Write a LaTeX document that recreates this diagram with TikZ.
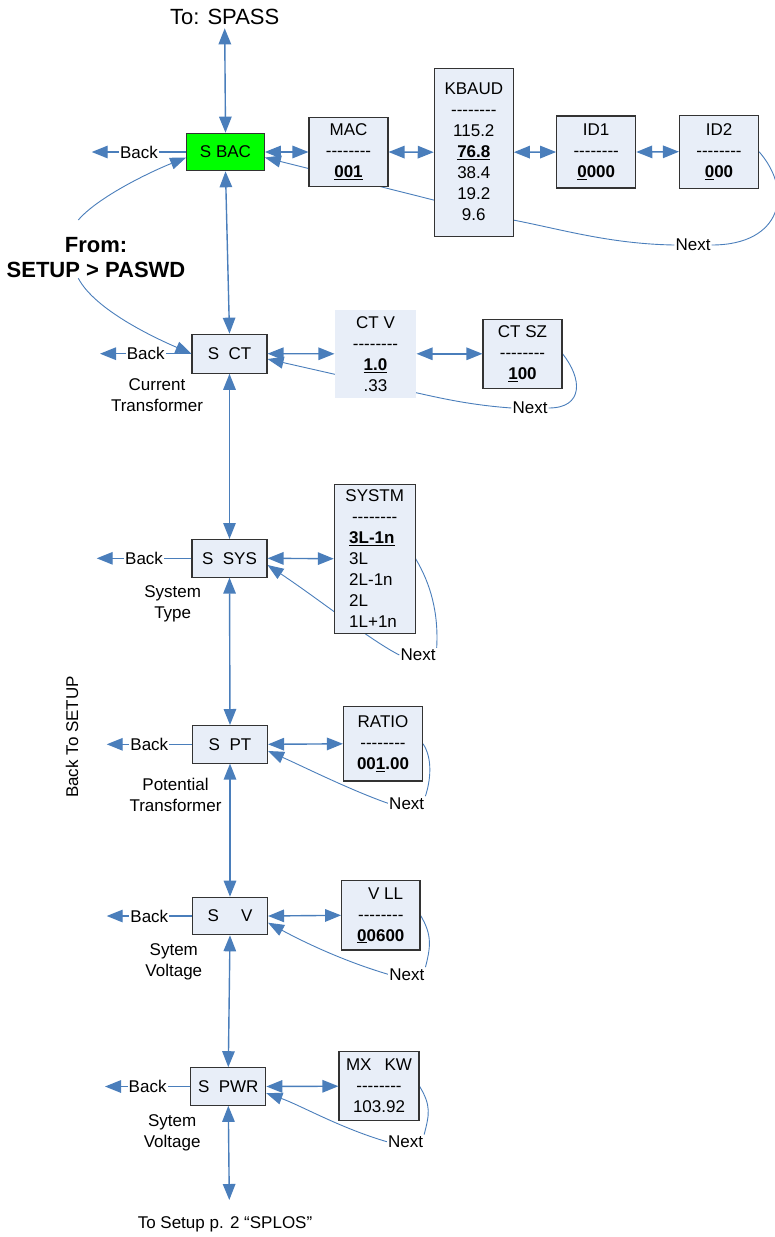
\documentclass[tikz,border=0pt]{standalone}
\usepackage{fontspec}
\setmainfont{Liberation Sans}[Ligatures=TeXOff]
\usetikzlibrary{arrows.meta,backgrounds}
\definecolor{linkblue}{HTML}{4A7EBB}
\definecolor{boxfill}{HTML}{E8EEF8}
\definecolor{bacgreen}{HTML}{00FF00}
\newcommand\dashrow{--------}
\newcommand\sysopt[1]{\makebox[51pt][l]{#1}}

\begin{document}
\begin{tikzpicture}[x=1pt,y=-1pt,
font=\fontsize{17}{21}\selectfont,
mainbox/.style={draw=black!80,fill=boxfill,line width=1.1pt,minimum width=75pt,minimum height=37.5pt,inner sep=0pt},
valbox/.style={mainbox,minimum width=79pt,align=center},
dbl/.style={draw=linkblue,line width=1.4pt,{Triangle[length=16pt,width=12.5pt]}-{Triangle[length=16pt,width=12.5pt]}},
backarrow/.style={draw=linkblue,line width=1.4pt,-{Triangle[length=16pt,width=12.5pt]}},
nextline/.style={draw=linkblue,line width=0.9pt},
nextarrow/.style={nextline,-{Triangle[length=16pt,width=12pt]}},
note/.style={fill=white,inner sep=1pt},
capt/.style={align=center,inner sep=0pt}
]
\useasboundingbox (0,0) rectangle (774,1237);

\node (spass) at (224.7,17) {\fontsize{22}{26}\selectfont To: SPASS};
\node[align=center,font=\fontsize{22}{25}\selectfont\bfseries] (from) at (96,257.5) {From:\\SETUP > PASWD};
\node[rotate=90] (backsetup) at (72,737) {Back To SETUP};
\node (splos) at (225,1224) {To Setup p. 2 “SPLOS”};

\node[mainbox,fill=bacgreen,minimum width=77.6pt] (sbac) at (225.5,152) {S BAC};
\node[valbox,minimum height=69.5pt] (mac) at (348.5,152) {MAC\\ \dashrow\\ \underline{\textbf{001}}};
\node[valbox,minimum height=167.7pt] (kbaud) at (473.8,152.2) {KBAUD\\ \dashrow\\ 115.2\\ \underline{\textbf{76.8}}\\ 38.4\\ 19.2\\ 9.6};
\node[valbox,minimum height=72pt] (id1) at (596.2,152) {ID1\\ \dashrow\\ \textbf{\underline{0}000}};
\node[valbox,minimum height=73pt] (id2) at (719,151.7) {ID2\\ \dashrow\\ \textbf{\underline{0}00}};

\node[mainbox,minimum height=39pt] (ct) at (229.5,353.7) {S\ \ CT};
\node[valbox,draw=none,minimum width=81pt,minimum height=87.7pt] (ctv) at (375.5,353.8) {CT V\\ \dashrow\\ \underline{\textbf{1.0}}\\ .33};
\node[valbox,minimum height=69pt] (ctsz) at (522.5,353.8) {CT SZ\\ \dashrow\\ \textbf{\underline{1}00}};
\node[capt] (ctcap) at (157,395) {Current\\Transformer};

\node[mainbox] (sys) at (229.5,558.3) {S\ \ SYS};
\node[valbox,minimum width=80.7pt,minimum height=149.3pt] (systm) at (374.7,558.7) {SYSTM\\ \dashrow\\ \sysopt{\underline{\textbf{3L-1n}}}\\ \sysopt{3L}\\ \sysopt{2L-1n}\\ \sysopt{2L}\\ \sysopt{1L+1n}};
\node[capt] (syscap) at (172.7,603.7) {System\\Type};

\node[mainbox] (pt) at (230,744.3) {S\ \ PT};
\node[valbox,minimum height=74.3pt] (ratio) at (383,743.8) {RATIO\\ \dashrow\\ \textbf{00\underline{1}.00}};
\node[capt] (ptcap) at (175.5,795) {Potential\\Transformer};

\node[mainbox] (v) at (230,916) {S\hspace{22pt}V};
\node[valbox,minimum width=78.3pt,minimum height=69.3pt] (vll) at (380.8,915.3) {\ \ V LL\\ \dashrow\\ \textbf{\underline{0}0600}};
\node[capt] (vcap) at (173.8,962.2) {Sytem\\Voltage};

\node[mainbox] (pwr) at (228.3,1086.5) {S\ \ PWR};
\node[valbox,minimum width=80pt,minimum height=69pt] (mxkw) at (379,1086.2) {MX\hspace{13pt}KW\\ \dashrow\\ 103.92};
\node[capt] (pwrcap) at (172.2,1132.8) {Sytem\\Voltage};

\coordinate (down) at (229.3,1200);
\coordinate (bk1) at (91.7,152);
\coordinate (bk2) at (100,353.7);
\coordinate (bk3) at (96.7,558.3);
\coordinate (bk4) at (106.7,744.3);
\coordinate (bk5) at (106.7,916);
\coordinate (bk6) at (105,1086.5);
\coordinate (f1) at (78.3,220);
\coordinate (f2) at (78.3,278.3);

\foreach \a/\b in {sbac.north/spass.south, sbac.east/mac.west, mac.east/kbaud.west, kbaud.east/id1.west, id1.east/id2.west,
  sbac.south/ct.north, ct.east/ctv.west, ctv.east/ctsz.west, ct.south/sys.north, sys.east/systm.west,
  sys.south/pt.north, pt.east/ratio.west, pt.south/v.north, v.east/vll.west, v.south/pwr.north,
  pwr.east/mxkw.west, pwr.south/down}
  \draw[dbl] (\a) -- (\b);

\draw[backarrow] (sbac.west) -- node[note]{Back} (bk1);
\draw[backarrow] (ct.west) -- node[note]{Back} (bk2);
\draw[backarrow] (sys.west) -- node[note]{Back} (bk3);
\draw[backarrow] (pt.west) -- node[note]{Back} (bk4);
\draw[backarrow] (v.west) -- node[note]{Back} (bk5);
\draw[backarrow] (pwr.west) -- node[note]{Back} (bk6);

\draw[nextarrow] (f1) .. controls (98,197) and (150,172) .. (sbac.-172);
\draw[nextarrow] (f2) .. controls (95,310) and (155,338) .. (ct.west);

\node[note] (nx1) at (693,245) {Next};
\node[note] (nx2) at (530,408) {Next};
\node[note] (nx3) at (418,655) {Next};
\node[note] (nx4) at (406.7,803.3) {Next};
\node[note] (nx5) at (406.8,974.3) {Next};
\node[note] (nx6) at (405.5,1141.7) {Next};

\begin{scope}[on background layer]
\draw[nextline] (id2.east) .. controls +(35,40) and +(70,0) .. (nx1.east);
\draw[nextarrow] (nx1.west) .. controls (610,244) and (560,229) .. (513,220) -- (sbac.-8);
\draw[nextline] (ctsz.east) .. controls +(20,25) and +(35,0) .. (nx2.east);
\draw[nextarrow] (nx2.west) .. controls (470,405) and (440,398) .. (416,392.7) -- (ct.-8);
\draw[nextline] (systm.east) .. controls +(15,25) and +(2,-35) .. (nx3.north east);
\draw[nextarrow] (nx3.west) .. controls (370,640) and (320,600) .. (sys.-10);
\draw[nextline] (ratio.east) .. controls +(10,15) and +(5,-15) .. (nx4.north east);
\draw[nextarrow] (nx4.west) .. controls (350,790) and (300,765) .. (pt.-10);
\draw[nextline] (vll.east) .. controls +(12,20) and +(5,-20) .. (nx5.north east);
\draw[nextarrow] (nx5.west) .. controls (340,960) and (300,940) .. (v.-10);
\draw[nextline] (mxkw.east) .. controls +(12,20) and +(5,-20) .. (nx6.north east);
\draw[nextarrow] (nx6.west) .. controls (340,1128) and (300,1105) .. (pwr.-10);
\end{scope}
\end{tikzpicture}
\end{document}
